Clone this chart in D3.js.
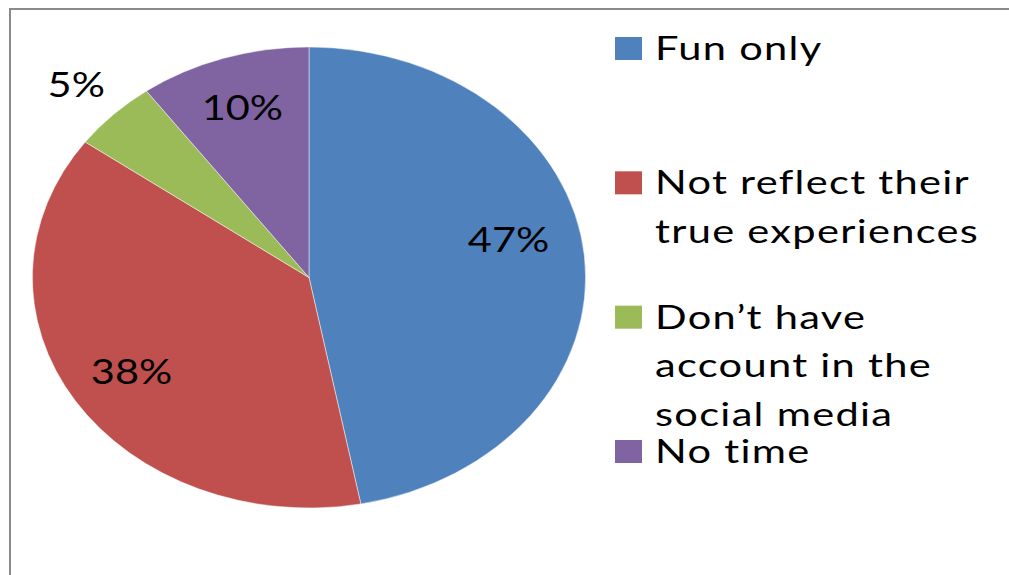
<!DOCTYPE html>
<html>
<head>
<meta charset="utf-8">
<script src="https://cdn.jsdelivr.net/npm/d3@7"></script>
<style>
  html, body { margin: 0; padding: 0; background: #fff; }
  svg { display: block; }
  text { font-family: Lato, "Open Sans", sans-serif; fill: #000; }
</style>
</head>
<body>
<svg id="chart" width="1009" height="575"></svg>
<script>
// ---- data ----
const categories = ["Fun only", "Not reflect their true experiences", "Don\u2019t have account in the social media", "No time"];
const values = [47, 38, 5, 10];
const legendLines = [["Fun only"], ["Not reflect their", "true experiences"], ["Don\u2019t have", "account in the", "social media"], ["No time"]];
const colors = ["#4F81BD", "#C0504D", "#9BBB59", "#8064A2"];
const outsideLabel = [false, false, true, false];
const labelAngleShift = [-7.5, 0, 0, 0]; // degrees, best-fit nudge
const labelRadius = [0.74, 0.76, 1.19, 0.78]; // fraction of radius

// ---- layout ----
const W = 1009, H = 575;
const svg = d3.select("#chart");
const pieStretch = 1.2;      // the pie is drawn as an ellipse
const pctStretch = 1.22;
const legStretch = 1.3;
const cx = 309, cy = 277.5, R = 230.5;

// frame
svg.append("rect")
  .attr("x", 10).attr("y", 9)
  .attr("width", W + 20).attr("height", H + 20)
  .attr("fill", "none").attr("stroke", "#8a8a8a").attr("stroke-width", 2);

const pie = d3.pie().sort(null).value(d => d)(values);
const arc = d3.arc().innerRadius(0).outerRadius(R);

const g = svg.append("g")
  .attr("transform", `translate(${cx},${cy}) scale(${pieStretch},1)`);

g.selectAll("path.slice")
  .data(pie)
  .join("path")
  .attr("class", "slice")
  .attr("d", arc)
  .attr("fill", (d, i) => colors[i])
  .attr("stroke", "#ffffff")
  .attr("stroke-opacity", 0.6)
  .attr("stroke-width", 0.8)
  .attr("vector-effect", "non-scaling-stroke");

// percentage labels
function labelPos(d, i) {
  const r = R * labelRadius[i];
  const a = (d.startAngle + d.endAngle) / 2 + labelAngleShift[i] * Math.PI / 180;
  return [cx + Math.sin(a) * r * pieStretch, cy - Math.cos(a) * r];
}
svg.selectAll("text.pct")
  .data(pie)
  .join("text")
  .attr("class", "pct")
  .attr("transform", (d, i) => {
    const [x, y] = labelPos(d, i);
    return `translate(${x},${y}) scale(${pctStretch},1)`;
  })
  .attr("text-anchor", "middle")
  .attr("dominant-baseline", "central")
  .style("font-size", "34px")
  .text(d => d.data + "%");

// legend
const legendY = d3.scaleLinear().domain([0, categories.length - 1]).range([37, 440]);
const lineH = 48.5;
const items = svg.append("g").selectAll("g.item")
  .data(categories)
  .join("g")
  .attr("class", "item")
  .attr("transform", (d, i) => `translate(615,${legendY(i)})`);

items.append("rect")
  .attr("x", 0).attr("y", 0)
  .attr("width", 27).attr("height", 23)
  .attr("fill", (d, i) => colors[i]);

items.each(function (d, i) {
  const sel = d3.select(this);
  legendLines[i].forEach((line, j) => {
    sel.append("text")
      .attr("transform", `translate(40,${23 + j * lineH}) scale(${legStretch},1)`)
      .style("font-size", "32px")
      .style("letter-spacing", "1px")
      .text(line);
  });
});
</script>
</body>
</html>
